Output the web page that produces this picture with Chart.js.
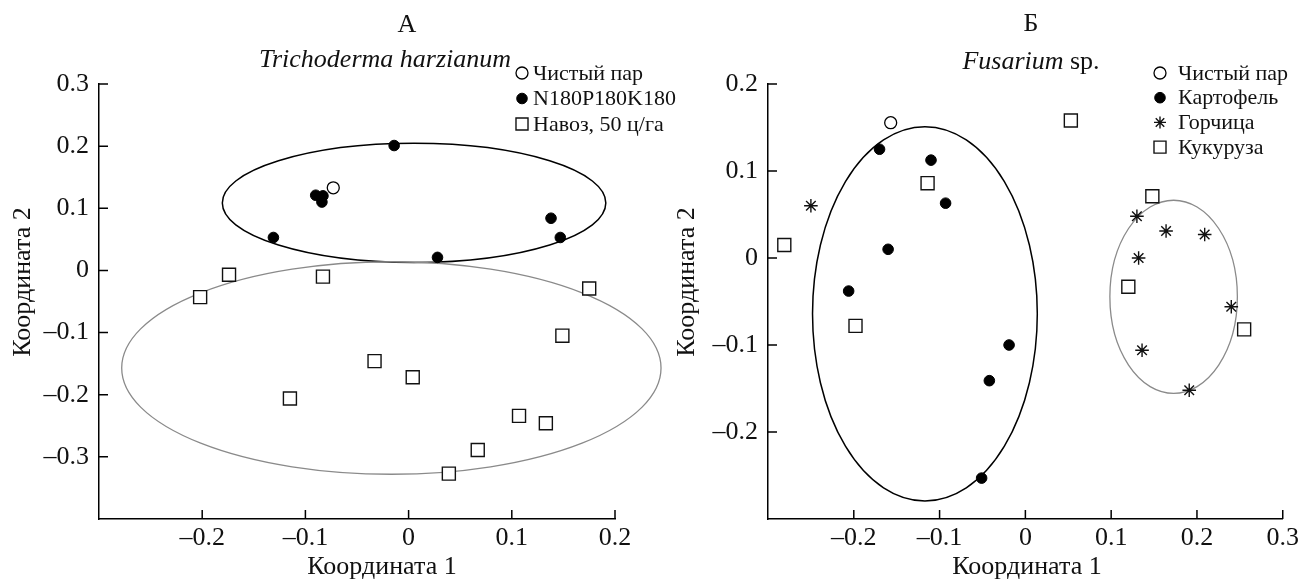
<!DOCTYPE html>
<html>
<head>
<meta charset="utf-8">
<script src="https://cdn.jsdelivr.net/npm/chart.js@4.4.1/dist/chart.umd.min.js"></script>
<style>
  body { margin: 0; background: #fff; width: 1303px; height: 581px; overflow: hidden; position: relative; }
  canvas { position: absolute; top: 0; }
  #chartA { left: 0; }
  #chartB { left: 651px; }
</style>
</head>
<body>
<canvas id="chartA" width="680" height="581"></canvas>
<canvas id="chartB" width="652" height="581"></canvas>
<script>
// --- panel A: Trichoderma harzianum ---
const fallowAX = [-0.073];
const fallowAY = [0.133];
const npkX = [-0.131, -0.090, -0.083, -0.084, -0.014, 0.028, 0.138, 0.147];
const npkY = [0.053, 0.121, 0.120, 0.110, 0.201, 0.021, 0.084, 0.053];
const manureX = [-0.174, -0.083, 0.175, -0.202, 0.149, -0.033, 0.004, -0.115, 0.107, 0.133, 0.067, 0.039];
const manureY = [-0.007, -0.010, -0.029, -0.043, -0.105, -0.146, -0.172, -0.206, -0.234, -0.246, -0.289, -0.327];
// ellipses: [centre x, centre y, radius x, radius y]
const ellipseNpk = [0.0053, 0.1087, 0.1858, 0.0958];
const ellipseManure = [-0.0167, -0.157, 0.2613, 0.171];

// --- panel Б: Fusarium sp. ---
const fallowBX = [-0.157];
const fallowBY = [0.1555];
const potatoX = [-0.170, -0.110, -0.093, -0.160, -0.206, -0.019, -0.042, -0.051];
const potatoY = [0.125, 0.1125, 0.063, 0.010, -0.038, -0.100, -0.141, -0.253];
const mustardX = [-0.250, 0.130, 0.164, 0.209, 0.132, 0.240, 0.136, 0.191];
const mustardY = [0.060, 0.048, 0.031, 0.027, 0.000, -0.056, -0.106, -0.152];
const cornX = [0.053, -0.114, -0.281, 0.148, 0.120, -0.198, 0.255];
const cornY = [0.158, 0.086, 0.015, 0.071, -0.033, -0.078, -0.082];
const ellipsePotato = [-0.1171, -0.0642, 0.131, 0.2151];
const ellipseMustard = [0.1728, -0.0446, 0.0743, 0.111];

const FONT = 'Liberation Serif';
const SIZE = 26;

function pts(xs, ys) { return xs.map((x, i) => ({ x: x, y: ys[i] })); }

function fmt(v) {
  const r = Math.round(v * 10) / 10;
  return r < 0 ? '\u2013' + Math.abs(r) : String(r);
}

const openCircle = { pointStyle: 'circle', pointRadius: 6, backgroundColor: '#fff', borderColor: '#000', borderWidth: 1.3 };
const dot = { pointStyle: 'circle', pointRadius: 5.3, backgroundColor: '#000', borderColor: '#000', borderWidth: 1 };
const square = { pointStyle: 'rect', pointRadius: 9.2, backgroundColor: '#fff', borderColor: '#111', borderWidth: 1.4 };
const star = { pointStyle: 'star', pointRadius: 6.8, backgroundColor: '#000', borderColor: '#111', borderWidth: 1.4 };

function ds(label, xs, ys, style) {
  return Object.assign({ label: label, data: pts(xs, ys), pointHoverRadius: style.pointRadius }, style);
}

const inwardTicks = {
  id: 'inwardTicks',
  afterDraw(chart) {
    const { ctx, chartArea: a, scales: { x, y } } = chart;
    ctx.save();
    ctx.strokeStyle = '#000';
    ctx.lineWidth = 1.5;
    ctx.beginPath();
    x.ticks.forEach(t => {
      const px = x.getPixelForValue(t.value);
      ctx.moveTo(px, a.bottom);
      ctx.lineTo(px, a.bottom - 9);
    });
    y.ticks.forEach(t => {
      const py = y.getPixelForValue(t.value);
      ctx.moveTo(a.left, py);
      ctx.lineTo(a.left + 9, py);
    });
    ctx.stroke();
    ctx.restore();
  }
};

const ellipses = {
  id: 'ellipses',
  beforeDatasetsDraw(chart, args, opts) {
    const { ctx, scales: { x, y } } = chart;
    opts.list.forEach(e => {
      const cx = x.getPixelForValue(e.shape[0]);
      const cy = y.getPixelForValue(e.shape[1]);
      const rx = Math.abs(x.getPixelForValue(e.shape[0] + e.shape[2]) - cx);
      const ry = Math.abs(y.getPixelForValue(e.shape[1] + e.shape[3]) - cy);
      ctx.save();
      ctx.beginPath();
      ctx.ellipse(cx, cy, rx, ry, 0, 0, Math.PI * 2);
      ctx.strokeStyle = e.color;
      ctx.lineWidth = e.width;
      ctx.stroke();
      ctx.restore();
    });
  }
};

// legend, titles and axis titles drawn as text on the canvas
const labels = {
  id: 'labels',
  afterDraw(chart, args, o) {
    const ctx = chart.ctx;
    const roman = SIZE + 'px "' + FONT + '"';
    const italic = 'italic ' + roman;
    ctx.save();
    ctx.fillStyle = '#111';
    ctx.textBaseline = 'middle';

    ctx.textAlign = 'center';
    ctx.font = roman;
    ctx.fillText(o.letter[0], o.letter[1], o.letter[2]);

    // subtitle: italic part + optional roman part
    ctx.font = italic;
    const w1 = ctx.measureText(o.sub[0]).width;
    ctx.font = roman;
    const w2 = o.sub[1] ? ctx.measureText(o.sub[1]).width : 0;
    const sx = o.sub[2] - (w1 + w2) / 2;
    ctx.textAlign = 'left';
    ctx.font = italic;
    ctx.fillText(o.sub[0], sx, o.sub[3]);
    if (o.sub[1]) {
      ctx.font = roman;
      ctx.fillText(o.sub[1], sx + w1, o.sub[3]);
    }

    ctx.textAlign = 'center';
    ctx.font = roman;
    ctx.fillText('Координата 1', o.xTitle[0], o.xTitle[1]);
    ctx.save();
    ctx.translate(o.yTitle[0], o.yTitle[1]);
    ctx.rotate(-Math.PI / 2);
    ctx.fillText('Координата 2', 0, 0);
    ctx.restore();

    // legend
    ctx.font = '22px "' + FONT + '"';
    ctx.textAlign = 'left';
    chart.data.datasets.forEach((d, i) => {
      const ly = o.legend[2] + i * o.legend[3];
      ctx.fillStyle = d.backgroundColor;
      ctx.strokeStyle = d.borderColor;
      ctx.lineWidth = d.borderWidth;
      const r = d.pointStyle === 'rect' ? 8.5 : Math.min(d.pointRadius, 6);
      Chart.helpers.drawPoint(ctx, { pointStyle: d.pointStyle, radius: r, borderWidth: d.borderWidth, rotation: 0 }, o.legend[0], ly);
      ctx.fillStyle = '#111';
      ctx.fillText(d.label, o.legend[1], ly + 1);
    });
    ctx.restore();
  }
};

function scales(xMin, xMax, yMin, yMax, yWidth) {
  const tickFont = { family: FONT, size: SIZE };
  const dropMin = s => { s.ticks = s.ticks.filter(t => t.value > s.min + 1e-6); };
  return {
    x: {
      type: 'linear', min: xMin, max: xMax,
      grid: { display: false, drawTicks: false },
      border: { display: true, color: '#000', width: 1.5 },
      ticks: { stepSize: 0.1, color: '#111', font: tickFont, padding: 4, maxRotation: 0, autoSkip: false, callback: fmt },
      afterBuildTicks: dropMin,
      afterFit: s => { s.height = 62; }
    },
    y: {
      type: 'linear', min: yMin, max: yMax,
      grid: { display: false, drawTicks: false },
      border: { display: true, color: '#000', width: 1.5 },
      ticks: { stepSize: 0.1, color: '#111', font: tickFont, padding: 10, autoSkip: false, callback: fmt },
      afterBuildTicks: dropMin,
      afterFit: s => { s.width = yWidth; }
    }
  };
}

new Chart(document.getElementById('chartA'), {
  type: 'scatter',
  data: {
    datasets: [
      ds('Чистый пар', fallowAX, fallowAY, openCircle),
      ds('N180P180K180', npkX, npkY, dot),
      ds('Навоз, 50 ц/га', manureX, manureY, square)
    ]
  },
  options: {
    responsive: false,
    animation: false,
    layout: { padding: { left: 0, top: 84, right: 65, bottom: 0 } },
    scales: scales(-0.3, 0.2, -0.4, 0.3, 99),
    plugins: {
      legend: { display: false },
      tooltip: { enabled: false },
      ellipses: { list: [{ shape: ellipseNpk, color: '#000', width: 1.5 }, { shape: ellipseManure, color: '#8a8a8a', width: 1.3 }] },
      labels: {
        letter: ['А', 407, 25],
        sub: ['Trichoderma harzianum', '', 385, 60],
        xTitle: [382, 567],
        yTitle: [23, 282],
        legend: [522, 533, 73, 25.5]
      }
    }
  },
  plugins: [ellipses, inwardTicks, labels]
});

new Chart(document.getElementById('chartB'), {
  type: 'scatter',
  data: {
    datasets: [
      ds('Чистый пар', fallowBX, fallowBY, openCircle),
      ds('Картофель', potatoX, potatoY, dot),
      ds('Горчица', mustardX, mustardY, star),
      ds('Кукуруза', cornX, cornY, square)
    ]
  },
  options: {
    responsive: false,
    animation: false,
    layout: { padding: { left: 0, top: 84, right: 18, bottom: 0 } },
    scales: scales(-0.3, 0.3, -0.3, 0.2, 117),
    plugins: {
      legend: { display: false },
      tooltip: { enabled: false },
      ellipses: { list: [{ shape: ellipsePotato, color: '#000', width: 1.5 }, { shape: ellipseMustard, color: '#8a8a8a', width: 1.3 }] },
      labels: {
        letter: ['Б', 380, 24],
        sub: ['Fusarium', ' sp.', 380, 62],
        xTitle: [376, 567],
        yTitle: [36, 282],
        legend: [509, 527, 73, 24.7]
      }
    }
  },
  plugins: [ellipses, inwardTicks, labels]
});
</script>
</body>
</html>
